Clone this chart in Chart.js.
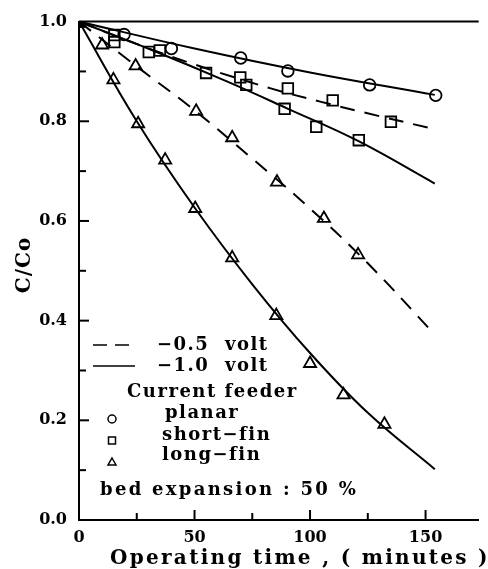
<!DOCTYPE html>
<html>
<head>
<meta charset="utf-8">
<script src="https://cdn.jsdelivr.net/npm/chart.js@4/dist/chart.umd.min.js"></script>
<style>
  html, body { margin: 0; padding: 0; background: #fff; }
  #wrap { width: 488px; height: 569px; }
</style>
</head>
<body>
<div id="wrap"><canvas id="chart" width="488" height="569"></canvas></div>
<script>
// tick labels
const xTicks = [0, 50, 100, 150];
const yTicks = [0, 0.2, 0.4, 0.6, 0.8, 1.0];

// measured points (markers)
const planarX = [0, 19.5, 40, 70, 90.4, 125.8, 154.4];
const planarY = [1.0, 0.974, 0.946, 0.927, 0.901, 0.873, 0.852];

const shortHalfX = [0, 15.3, 30.2, 69.8, 90.4, 109.8, 135];
const shortHalfY = [1.0, 0.973, 0.939, 0.888, 0.866, 0.842, 0.799];
const shortOneX = [0, 15.3, 35, 55, 72.4, 89, 102.7, 121.1];
const shortOneY = [1.0, 0.959, 0.942, 0.897, 0.873, 0.825, 0.789, 0.762];

const longHalfX = [0, 10, 24.5, 50.7, 66.3, 85.7, 106, 120.8];
const longHalfY = [1.0, 0.953, 0.911, 0.82, 0.767, 0.678, 0.605, 0.532];
const longOneX = [0, 14.9, 25.6, 37.3, 50.3, 66.3, 85.4, 100, 114.5, 132.2];
const longOneY = [1.0, 0.883, 0.795, 0.722, 0.625, 0.526, 0.41, 0.314, 0.251, 0.192];

// fitted curves
const planarLineX = [0, 50, 100, 154];
const planarLineY = [1.0, 0.946, 0.898, 0.853];
const shortHalfLineX = [0, 25, 50, 83, 104, 124, 154];
const shortHalfLineY = [1.0, 0.955, 0.914, 0.866, 0.84, 0.817, 0.784];
const shortOneLineX = [0, 32, 64, 90, 121, 154];
const shortOneLineY = [1.0, 0.942, 0.88, 0.826, 0.76, 0.675];
const longHalfLineX = [0, 25, 50, 75, 100, 125, 154];
const longHalfLineY = [1.0, 0.91, 0.822, 0.725, 0.625, 0.515, 0.372];
const longOneLineX = [0, 25, 50, 75, 100, 125, 154];
const longOneLineY = [1.0, 0.8, 0.627, 0.473, 0.335, 0.215, 0.102];

const FONT = '"DejaVu Serif", "Liberation Serif", serif';

function pts(xs, ys) {
    return xs.map((x, i) => ({ x: x, y: ys[i] }));
}

function curve(xs, ys, dashed) {
    return {
        data: pts(xs, ys),
        showLine: true,
        borderColor: '#000',
        borderWidth: 2,
        borderDash: dashed ? [15, 10] : [],
        pointRadius: 0,
        tension: 0.4
    };
}

function marks(xs, ys, style, r) {
    return {
        data: pts(xs, ys),
        showLine: false,
        pointStyle: style,
        pointRadius: r,
        pointBorderWidth: 1.8,
        pointBorderColor: '#000',
        pointBackgroundColor: 'rgba(0,0,0,0)'
    };
}

// inward ticks, frame top, axis titles and in-plot legend
const decorPlugin = {
    id: 'decor',
    afterDraw(chart) {
        const ctx = chart.ctx;
        const a = chart.chartArea;
        const xs = chart.scales.x;
        const ys = chart.scales.y;
        ctx.save();
        ctx.strokeStyle = '#000';
        ctx.fillStyle = '#000';
        ctx.lineWidth = 2;

        // top frame line
        ctx.beginPath();
        ctx.moveTo(a.left, a.top);
        ctx.lineTo(a.right, a.top);
        ctx.stroke();

        // x ticks
        for (let v = 25; v <= 150; v += 25) {
            const px = xs.getPixelForValue(v);
            const len = v % 50 === 0 ? 10 : 7;
            ctx.beginPath();
            ctx.moveTo(px, a.bottom);
            ctx.lineTo(px, a.bottom - len);
            ctx.stroke();
        }
        // y ticks
        for (let i = 1; i < 10; i++) {
            const py = ys.getPixelForValue(i / 10);
            const len = i % 2 === 0 ? 10 : 7;
            ctx.beginPath();
            ctx.moveTo(a.left, py);
            ctx.lineTo(a.left + len, py);
            ctx.stroke();
        }

        ctx.textBaseline = 'middle';
        ctx.textAlign = 'left';

        // axis titles
        ctx.font = 'bold 20px ' + FONT;
        ctx.letterSpacing = '2.3px';
        ctx.fillText('Operating time , ( minutes )', a.left + 31, 559);
        ctx.save();
        ctx.translate(25, 265);
        ctx.rotate(-Math.PI / 2);
        ctx.textAlign = 'center';
        ctx.letterSpacing = '1px';
        ctx.fillText('C/Co', 0, 0);
        ctx.restore();

        // legend
        const L = a.left;
        ctx.font = 'bold 18px ' + FONT;
        ctx.letterSpacing = '1.5px';
        ctx.lineWidth = 1.5;
        ctx.setLineDash([14, 8]);
        ctx.beginPath();
        ctx.moveTo(L + 14, 345);
        ctx.lineTo(L + 56, 345);
        ctx.stroke();
        ctx.setLineDash([]);
        ctx.beginPath();
        ctx.moveTo(L + 14, 366);
        ctx.lineTo(L + 56, 366);
        ctx.stroke();
        ctx.fillText('\u22120.5  volt', L + 78, 345);
        ctx.fillText('\u22121.0  volt', L + 78, 366);
        ctx.fillText('Current feeder', L + 48, 392);
        ctx.fillText('planar', L + 86, 413);
        ctx.fillText('short\u2212fin', L + 83, 435);
        ctx.fillText('long\u2212fin', L + 83, 455);
        ctx.letterSpacing = '2.3px';
        ctx.fillText('bed expansion : 50 %', L + 21, 490);

        ctx.lineWidth = 1.5;
        const mx = L + 33;
        ctx.beginPath();
        ctx.arc(mx, 419, 4, 0, Math.PI * 2);
        ctx.stroke();
        ctx.strokeRect(mx - 3.5, 437, 7, 7);
        ctx.beginPath();
        ctx.moveTo(mx, 458);
        ctx.lineTo(mx + 4, 465);
        ctx.lineTo(mx - 4, 465);
        ctx.closePath();
        ctx.stroke();
        ctx.restore();
    }
};

const ctx = document.getElementById('chart').getContext('2d');

new Chart(ctx, {
    type: 'scatter',
    data: {
        datasets: [
            curve(planarLineX, planarLineY, false),
            curve(shortHalfLineX, shortHalfLineY, true),
            curve(shortOneLineX, shortOneLineY, false),
            curve(longHalfLineX, longHalfLineY, true),
            curve(longOneLineX, longOneLineY, false),
            marks(planarX, planarY, 'circle', 5.8),
            marks(shortHalfX, shortHalfY, 'rect', 7.5),
            marks(shortOneX, shortOneY, 'rect', 7.5),
            marks(longHalfX, longHalfY, 'triangle', 7),
            marks(longOneX, longOneY, 'triangle', 7)
        ]
    },
    options: {
        responsive: false,
        animation: false,
        layout: { padding: { top: 16, left: 0, right: 0, bottom: 0 } },
        plugins: {
            legend: { display: false },
            tooltip: { enabled: false }
        },
        scales: {
            x: {
                type: 'linear',
                min: 0,
                max: 173,
                afterBuildTicks: scale => { scale.ticks = xTicks.map(v => ({ value: v })); },
                afterFit: scale => { scale.height = 49; },
                grid: { display: false, drawTicks: false },
                border: { display: true, color: '#000', width: 2 },
                ticks: {
                    color: '#000',
                    padding: 8,
                    maxRotation: 0,
                    font: { family: FONT, size: 16, weight: 'bold' }
                }
            },
            y: {
                type: 'linear',
                min: 0,
                max: 1,
                afterBuildTicks: scale => { scale.ticks = yTicks.map(v => ({ value: v })); },
                afterFit: scale => { scale.width = 79; },
                grid: { display: false, drawTicks: false },
                border: { display: true, color: '#000', width: 2 },
                ticks: {
                    color: '#000',
                    padding: 12,
                    callback: v => v.toFixed(1),
                    font: { family: FONT, size: 16, weight: 'bold' }
                }
            }
        }
    },
    plugins: [decorPlugin]
});
</script>
</body>
</html>
